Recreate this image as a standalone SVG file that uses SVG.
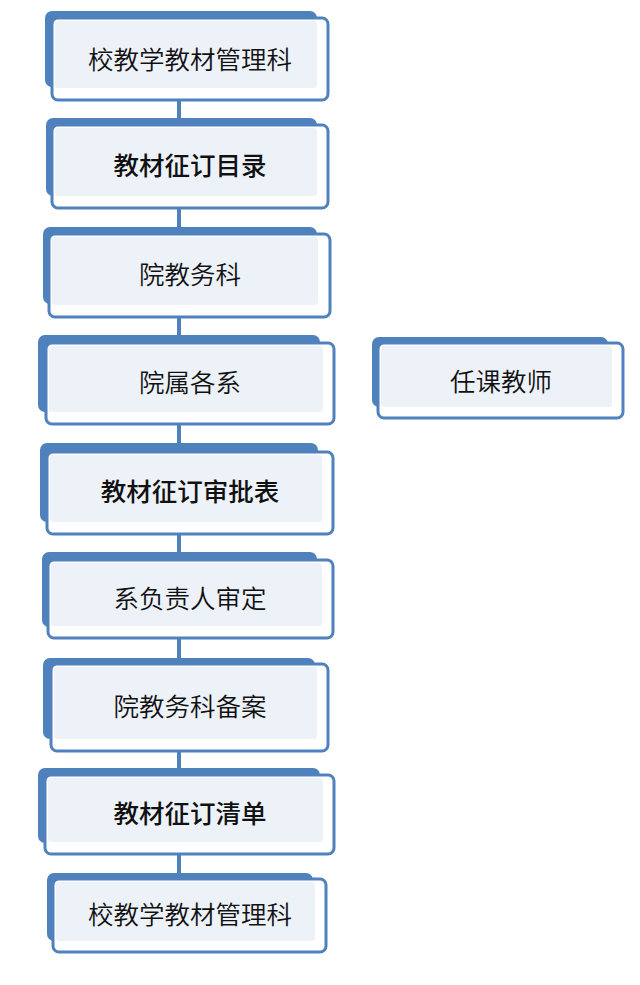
<svg xmlns="http://www.w3.org/2000/svg" width="640" height="985" viewBox="0 0 640 985">
<style>
.back{fill:#4f81bd}
.front{fill:#ffffff;stroke:#4f81bd;stroke-width:3}
.inner{fill:#edf2f9}
.conn{stroke:#4f81bd;stroke-width:4;fill:none}
text{font-family:"Noto Sans CJK SC","Noto Sans CJK TC",sans-serif;font-size:25.5px;fill:#111;text-anchor:middle;dominant-baseline:central;font-weight:350}
.b{font-weight:500}
</style>
<rect width="640" height="985" fill="#ffffff"/>
<g id="connectors">
<line class="conn" x1="179" y1="100" x2="179" y2="119"/>
<line class="conn" x1="179" y1="208" x2="179" y2="228"/>
<line class="conn" x1="179" y1="317" x2="179" y2="336"/>
<line class="conn" x1="179" y1="424" x2="179" y2="444"/>
<line class="conn" x1="179" y1="534" x2="179" y2="553"/>
<line class="conn" x1="179" y1="638" x2="179" y2="659"/>
<line class="conn" x1="179" y1="751" x2="179" y2="769"/>
<line class="conn" x1="179" y1="854" x2="179" y2="874"/>
</g>
<g id="n1">
<rect class="back" x="45" y="11" width="272" height="76" rx="7"/>
<rect class="front" x="52" y="18" width="276" height="82" rx="6"/>
<rect class="inner" x="55" y="21" width="262" height="67" rx="3"/>
<text x="190" y="57">校教学教材管理科</text>
</g>
<g id="n2">
<rect class="back" x="46" y="118" width="271" height="78" rx="7"/>
<rect class="front" x="52" y="125" width="276" height="83" rx="6"/>
<rect class="inner" x="55" y="128" width="262" height="68" rx="3"/>
<text class="b" x="190" y="163">教材征订目录</text>
</g>
<g id="n3">
<rect class="back" x="43" y="227" width="274" height="77" rx="7"/>
<rect class="front" x="49" y="234" width="281" height="83" rx="6"/>
<rect class="inner" x="52" y="237" width="266" height="68" rx="3"/>
<text x="190" y="272">院教务科</text>
</g>
<g id="n4">
<rect class="back" x="38" y="335" width="282" height="77" rx="7"/>
<rect class="front" x="46" y="343" width="288" height="81" rx="6"/>
<rect class="inner" x="49" y="346" width="274" height="66" rx="3"/>
<text x="190" y="380">院属各系</text>
</g>
<g id="n5">
<rect class="back" x="40" y="443" width="278" height="79" rx="7"/>
<rect class="front" x="47" y="452" width="286" height="82" rx="6"/>
<rect class="inner" x="50" y="455" width="272" height="67" rx="3"/>
<text class="b" x="190" y="489">教材征订审批表</text>
</g>
<g id="n6">
<rect class="back" x="42" y="552" width="275" height="75" rx="7"/>
<rect class="front" x="48" y="560" width="285" height="78" rx="6"/>
<rect class="inner" x="51" y="563" width="271" height="63" rx="3"/>
<text x="190" y="596">系负责人审定</text>
</g>
<g id="n7">
<rect class="back" x="43" y="658" width="272" height="81" rx="7"/>
<rect class="front" x="51" y="664" width="277" height="87" rx="6"/>
<rect class="inner" x="54" y="667" width="263" height="72" rx="3"/>
<text x="190" y="704">院教务科备案</text>
</g>
<g id="n8">
<rect class="back" x="38" y="768" width="282" height="75" rx="7"/>
<rect class="front" x="45" y="775" width="289" height="79" rx="6"/>
<rect class="inner" x="48" y="778" width="275" height="64" rx="3"/>
<text class="b" x="190" y="811">教材征订清单</text>
</g>
<g id="n9">
<rect class="back" x="47" y="873" width="266" height="68" rx="7"/>
<rect class="front" x="53" y="879" width="273" height="73" rx="6"/>
<rect class="inner" x="56" y="882" width="259" height="59" rx="3"/>
<text x="190" y="912">校教学教材管理科</text>
</g>
<g id="n10">
<rect class="back" x="372" y="337" width="236" height="70" rx="7"/>
<rect class="front" x="378" y="343" width="245" height="75" rx="6"/>
<rect class="inner" x="381" y="346" width="231" height="61" rx="3"/>
<text x="501" y="379">任课教师</text>
</g>
</svg>
